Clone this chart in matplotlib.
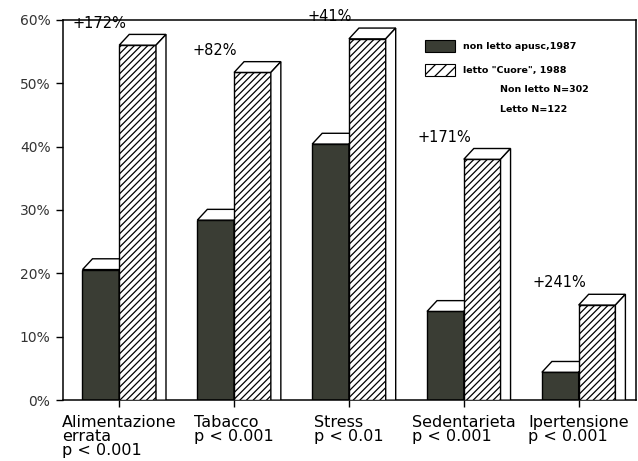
import numpy as np
import matplotlib.pyplot as plt
from matplotlib.patches import Polygon, Rectangle

categories = ['Alimentazione\nerrata\np < 0.001', 'Tabacco\np < 0.001', 'Stress\np < 0.01',
              'Sedentarieta\np < 0.001', 'Ipertensione\np < 0.001']
non_letto = [20.6, 28.4, 40.4, 14.0, 4.4]
letto = [56.0, 51.7, 57.0, 38.0, 15.0]
increase = ['+172%', '+82%', '+41%', '+171%', '+241%']
yticks = [0, 10, 20, 30, 40, 50, 60]

DARK = '#3a3d34'
W = 0.32      # bar width
DX = 0.087    # depth offset along x
DY = 1.7      # depth offset along y


def block(ax, x0, v, face, hatch=None, z=2):
    # front face
    ax.add_patch(Rectangle((x0, 0), W, v, facecolor=face, edgecolor='black',
                           hatch=hatch, linewidth=1.0, zorder=z))
    # top face
    top = [(x0, v), (x0 + DX, v + DY), (x0 + W + DX, v + DY), (x0 + W, v)]
    ax.add_patch(Polygon(top, closed=True, facecolor='white', edgecolor='black',
                         linewidth=1.0, zorder=z))
    # side face
    side = [(x0 + W, 0), (x0 + W, v), (x0 + W + DX, v + DY), (x0 + W + DX, 0)]
    ax.add_patch(Polygon(side, closed=True, facecolor='white', edgecolor='black',
                         linewidth=1.0, zorder=z))


plt.rcParams['hatch.linewidth'] = 0.9
fig = plt.figure(figsize=(6.38, 4.61), dpi=100)
ax = fig.add_axes([0.0987, 0.132, 0.8983, 0.825])

x = np.arange(len(categories))
for i in x:
    block(ax, i - W, non_letto[i], DARK, z=2)
    block(ax, i, letto[i], 'white', hatch='/////', z=3)
    ax.text(i - 0.17, letto[i] + DY + 0.6, increase[i], ha='center', va='bottom',
            fontsize=10.5)

ax.set_xlim(-0.49, 4.5)
ax.set_ylim(0, 60)
ax.set_xticks(x)
ax.set_xticklabels(categories, fontsize=11.5, linespacing=0.9, ha='center',
                   va='top', multialignment='left')
ax.set_yticks(yticks)
ax.set_yticklabels([f'{t}%' for t in yticks], fontsize=10, color='#333333')
ax.tick_params(axis='both', direction='out', length=5, width=1, pad=4)
ax.tick_params(axis='x', pad=6)
for s in ax.spines.values():
    s.set_linewidth(1.1)

# legend
ax.add_patch(Rectangle((0.632, 0.915), 0.052, 0.033, transform=ax.transAxes,
                       facecolor=DARK, edgecolor='black', linewidth=0.8))
ax.add_patch(Rectangle((0.632, 0.852), 0.052, 0.033, transform=ax.transAxes,
                       facecolor='white', edgecolor='black', hatch='///',
                       linewidth=0.8))
ax.text(0.698, 0.931, 'non letto apusc,1987', transform=ax.transAxes,
        fontsize=6.8, fontweight='bold', va='center')
ax.text(0.698, 0.868, 'letto "Cuore", 1988', transform=ax.transAxes,
        fontsize=6.8, fontweight='bold', va='center')
ax.text(0.763, 0.818, 'Non letto N=302', transform=ax.transAxes,
        fontsize=6.8, fontweight='bold', va='center')
ax.text(0.763, 0.763, 'Letto N=122', transform=ax.transAxes,
        fontsize=6.8, fontweight='bold', va='center')

fig.savefig('out.png', dpi=100)
